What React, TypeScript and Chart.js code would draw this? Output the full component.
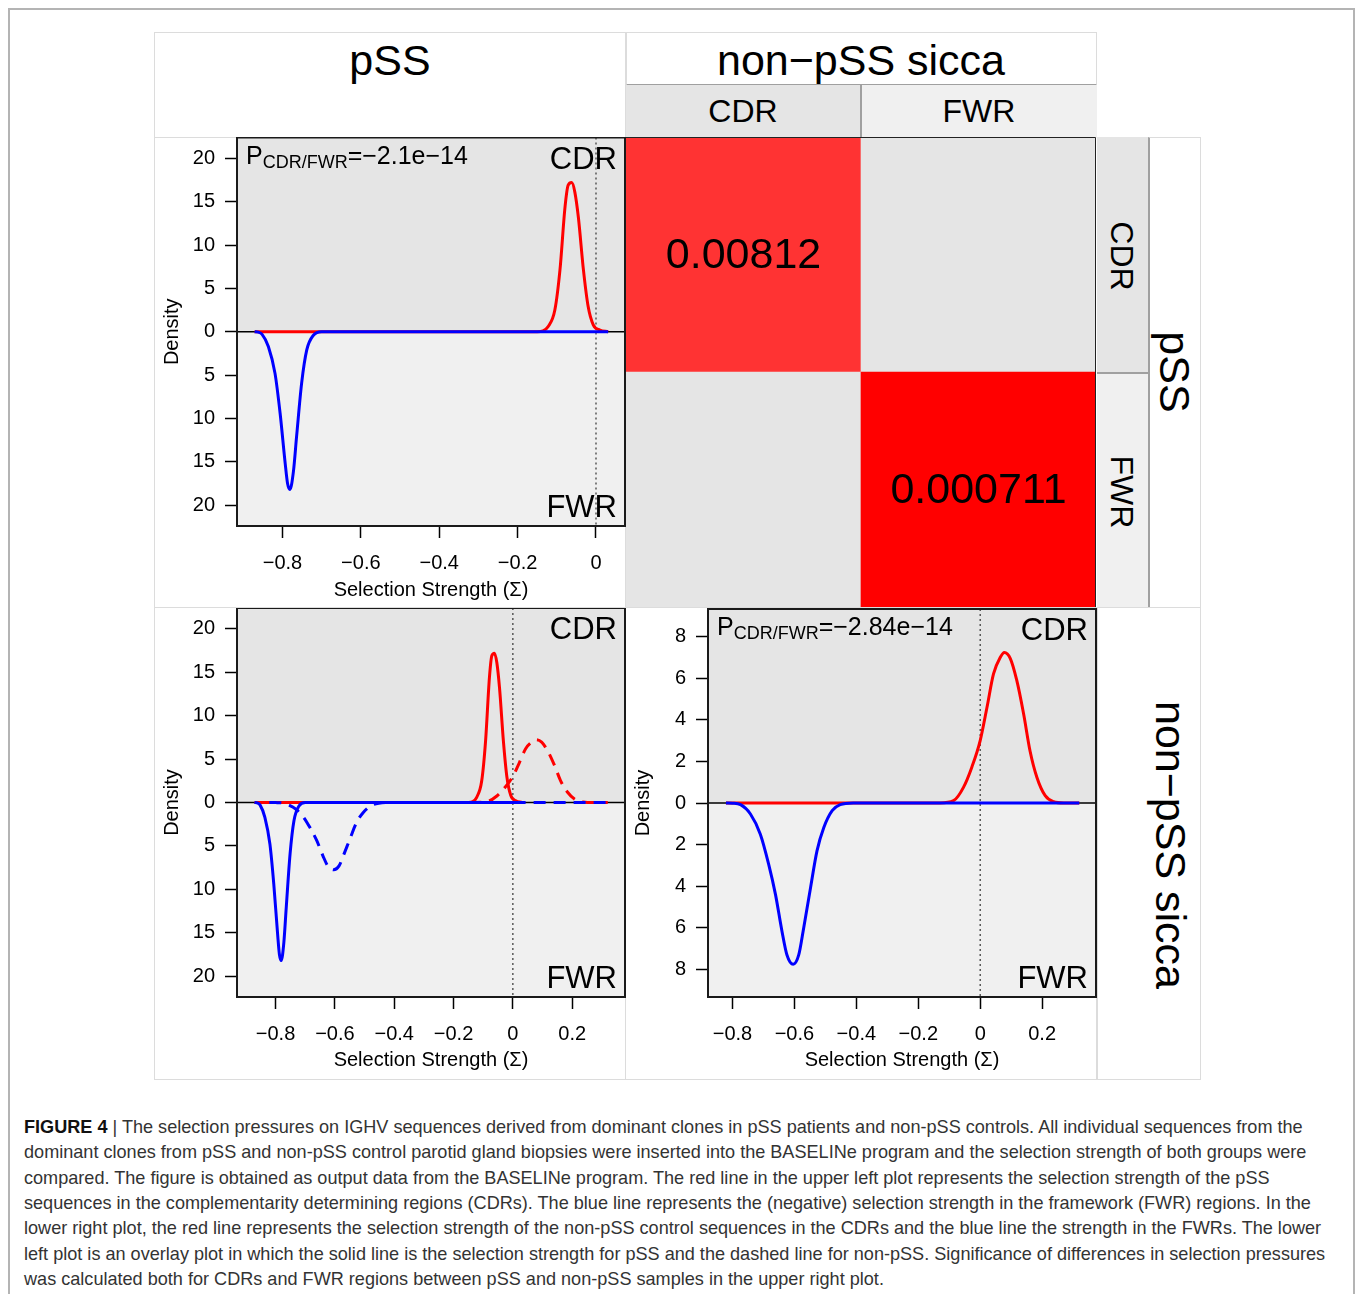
import React, { useEffect, useRef } from "react";
import { Chart, registerables } from "chart.js";

Chart.register(...registerables);

const FONT = "'Liberation Sans', Arial, Helvetica, sans-serif";

// ---------------- data ----------------
// pSS, CDR (red, solid) – selection strength density
const pssCdrX = [-0.871, -0.15, -0.135, -0.122, -0.105, -0.092, -0.079, -0.071, -0.062, -0.054, -0.045, -0.032, -0.02, -0.007, 0.01, 0.031];
const pssCdrDensity = [0, 0, 0.1, 0.6, 2.5, 7.1, 14.4, 16.9, 17.2, 16.1, 13.2, 7.1, 2.9, 0.8, 0.2, 0];
// pSS, FWR (blue, solid, drawn downwards)
const pssFwrX = [-0.871, -0.862, -0.852, -0.836, -0.819, -0.806, -0.793, -0.787, -0.781, -0.772, -0.764, -0.751, -0.738, -0.721, -0.7, 0.031];
const pssFwrDensity = [0, -0.05, -0.3, -1.7, -4.8, -9.4, -15.2, -17.5, -18.2, -16.1, -12.1, -5.9, -2.1, -0.4, 0, 0];
// non-pSS sicca, CDR (red)
const nonCdrX = [-0.821, -0.13, -0.086, -0.054, -0.027, 0.0, 0.022, 0.043, 0.065, 0.078, 0.097, 0.118, 0.14, 0.161, 0.183, 0.21, 0.237, 0.27, 0.32];
const nonCdrDensity = [0, 0, 0.11, 0.75, 1.72, 3.0, 4.6, 6.2, 7.0, 7.23, 6.95, 5.9, 4.3, 2.5, 1.24, 0.35, 0.06, 0, 0];
// non-pSS sicca, FWR (blue, drawn downwards)
const nonFwrX = [-0.821, -0.8, -0.774, -0.742, -0.71, -0.683, -0.661, -0.64, -0.624, -0.604, -0.586, -0.57, -0.548, -0.527, -0.505, -0.478, -0.452, -0.41, 0.32];
const nonFwrDensity = [0, -0.01, -0.08, -0.53, -1.5, -2.95, -4.4, -6.17, -7.3, -7.75, -7.3, -6.0, -4.08, -2.3, -1.18, -0.37, -0.08, 0, 0];

const pValuePss = "\u22122.1e\u221214";
const pValueNon = "\u22122.84e\u221214";

// heatmap of p-values (rows: pSS CDR / FWR, columns: non-pSS CDR / FWR)
const heatColumns = ["CDR", "FWR"];
const heatRowCdr = [0.00812, null];
const heatRowFwr = [null, 0.000711];

// tick values
const densityTicksWide = [-20, -15, -10, -5, 0, 5, 10, 15, 20];
const densityTicksNarrow = [-8, -6, -4, -2, 0, 2, 4, 6, 8];
const strengthTicksPss = [-0.8, -0.6, -0.4, -0.2, 0];
const strengthTicksAll = [-0.8, -0.6, -0.4, -0.2, 0, 0.2];

const captionLines = [
  " | The selection pressures on IGHV sequences derived from dominant clones in pSS patients and non-pSS controls. All individual sequences from the",
  "dominant clones from pSS and non-pSS control parotid gland biopsies were inserted into the BASELINe program and the selection strength of both groups were",
  "compared. The figure is obtained as output data from the BASELINe program. The red line in the upper left plot represents the selection strength of the pSS",
  "sequences in the complementarity determining regions (CDRs). The blue line represents the (negative) selection strength in the framework (FWR) regions. In the",
  "lower right plot, the red line represents the selection strength of the non-pSS control sequences in the CDRs and the blue line the strength in the FWRs. The lower",
  "left plot is an overlay plot in which the solid line is the selection strength for pSS and the dashed line for non-pSS. Significance of differences in selection pressures",
  "was calculated both for CDRs and FWR regions between pSS and non-pSS samples in the upper right plot.",
];

// ---------------- helpers ----------------
const RED = "#ff0000";
const BLUE = "#0000ff";

type Series = { x: number[]; y: number[]; color: string; dashed?: boolean };

type PanelProps = {
  left: number;
  top: number;
  width: number;
  height: number;
  xMin: number;
  xMax: number;
  yMax: number;
  xTicks: number[];
  yTicks: number[];
  series: Series[];
  pValue?: string;
  yWidth: number;
  xHeight: number;
  padding: { left: number; top: number; right: number; bottom: number };
  titleBottom: number;
  titleLeft: number;
};

const fmtStrength = (v: number) => (v < 0 ? "\u2212" : "") + String(Math.abs(v));

function Panel(p: PanelProps) {
  const ref = useRef<HTMLCanvasElement>(null);
  useEffect(() => {
    const decor = {
      id: "panelDecor",
      beforeDatasetsDraw(chart: any) {
        const { ctx, chartArea: a, scales } = chart;
        const y0 = scales.y.getPixelForValue(0);
        const x0 = scales.x.getPixelForValue(0);
        ctx.save();
        ctx.fillStyle = "#e5e5e5";
        ctx.fillRect(a.left, a.top, a.right - a.left, y0 - a.top);
        ctx.fillStyle = "#f0f0f0";
        ctx.fillRect(a.left, y0, a.right - a.left, a.bottom - y0);
        ctx.strokeStyle = "#333";
        ctx.lineWidth = 1.2;
        ctx.setLineDash([2, 3]);
        ctx.beginPath();
        ctx.moveTo(x0, a.top);
        ctx.lineTo(x0, a.bottom);
        ctx.stroke();
        ctx.setLineDash([]);
        ctx.strokeStyle = "#000";
        ctx.lineWidth = 1.5;
        ctx.beginPath();
        ctx.moveTo(a.left, y0);
        ctx.lineTo(a.right, y0);
        ctx.stroke();
        ctx.restore();
      },
      afterDatasetsDraw(chart: any) {
        const { ctx, chartArea: a } = chart;
        ctx.save();
        ctx.setLineDash([]);
        ctx.strokeStyle = "#1a1a1a";
        ctx.lineWidth = 2;
        ctx.strokeRect(a.left, a.top, a.right - a.left, a.bottom - a.top);
        ctx.fillStyle = "#000";
        ctx.textBaseline = "alphabetic";
        ctx.textAlign = "right";
        ctx.font = `31px ${FONT}`;
        ctx.fillText("CDR", a.right - 8, a.top + 31);
        ctx.fillText("FWR", a.right - 8, a.bottom - 9);
        if (p.pValue) {
          ctx.textAlign = "left";
          let x = a.left + 9;
          const base = a.top + 26;
          ctx.font = `25px ${FONT}`;
          ctx.fillText("P", x, base);
          x += ctx.measureText("P").width;
          ctx.font = `18px ${FONT}`;
          ctx.fillText("CDR/FWR", x, base + 4);
          x += ctx.measureText("CDR/FWR").width;
          ctx.font = `25px ${FONT}`;
          ctx.fillText("=" + p.pValue, x, base);
        }
        ctx.restore();
      },
    };

    const gridOpts = {
      drawOnChartArea: false,
      drawTicks: true,
      tickLength: 12,
      tickWidth: 1.5,
      tickColor: "#000",
    };

    const chart = new Chart(ref.current as HTMLCanvasElement, {
      type: "line",
      data: {
        datasets: p.series.map((s) => ({
          data: s.x.map((x, i) => ({ x, y: s.y[i] })),
          borderColor: s.color,
          borderWidth: 3,
          borderDash: s.dashed ? [12, 8] : [],
          pointRadius: 0,
          fill: false,
          cubicInterpolationMode: "monotone",
        })),
      } as any,
      options: {
        animation: false,
        responsive: false,
        maintainAspectRatio: false,
        events: [],
        layout: { padding: p.padding },
        plugins: {
          legend: { display: false },
          tooltip: { enabled: false },
          title: { display: false },
        },
        scales: {
          x: {
            type: "linear",
            min: p.xMin,
            max: p.xMax,
            afterBuildTicks: (s: any) => {
              s.ticks = p.xTicks.map((v) => ({ value: v }));
            },
            afterFit: (s: any) => {
              s.height = p.xHeight;
              s.paddingLeft = 0;
              s.paddingRight = 0;
              s.paddingTop = 0;
              s.paddingBottom = 0;
            },
            grid: gridOpts,
            border: { display: false },
            ticks: {
              color: "#000",
              font: { family: FONT, size: 20 },
              padding: 13,
              autoSkip: false,
              maxRotation: 0,
              callback: (v: any) => fmtStrength(Number(v)),
            },
            title: {
              display: true,
              text: "Selection Strength (\u03a3)",
              color: "#000",
              font: { family: FONT, size: 20 },
              padding: { top: 0, bottom: p.titleBottom },
            },
          },
          y: {
            type: "linear",
            min: -p.yMax,
            max: p.yMax,
            afterBuildTicks: (s: any) => {
              s.ticks = p.yTicks.map((v) => ({ value: v }));
            },
            afterFit: (s: any) => {
              s.width = p.yWidth;
              s.paddingLeft = 0;
              s.paddingRight = 0;
              s.paddingTop = 0;
              s.paddingBottom = 0;
            },
            grid: gridOpts,
            border: { display: false },
            ticks: {
              color: "#000",
              font: { family: FONT, size: 20 },
              padding: 10,
              autoSkip: false,
              callback: (v: any) => String(Math.abs(Number(v))),
            },
            title: {
              display: true,
              text: "Density",
              color: "#000",
              font: { family: FONT, size: 20 },
              padding: { top: p.titleLeft, bottom: 0 },
            },
          },
        },
      } as any,
      plugins: [decor],
    });
    return () => chart.destroy();
  }, []);
  return (
    <canvas
      ref={ref}
      width={p.width}
      height={p.height}
      style={{ position: "absolute", left: p.left, top: p.top, width: p.width, height: p.height }}
    />
  );
}

const cellColor = (v: number | null) =>
  v === null ? "#e5e5e5" : v < 0.001 ? "#ff0000" : "#ff3333";

function Heatmap() {
  const ref = useRef<HTMLCanvasElement>(null);
  useEffect(() => {
    const rows = [heatRowFwr, heatRowCdr];
    const labels = {
      id: "heatLabels",
      afterDatasetsDraw(chart: any) {
        const { ctx, chartArea: a } = chart;
        ctx.save();
        ctx.fillStyle = "#000";
        ctx.font = `43px ${FONT}`;
        ctx.textAlign = "center";
        ctx.textBaseline = "middle";
        rows.forEach((row, di) => {
          const meta = chart.getDatasetMeta(di);
          meta.data.forEach((el: any, i: number) => {
            const v = row[i];
            if (v === null) return;
            ctx.fillText(String(v), el.x, (el.y + el.base) / 2 + 2);
          });
        });
        ctx.strokeStyle = "#222";
        ctx.lineWidth = 1;
        ctx.beginPath();
        ctx.moveTo(a.left, a.top + 0.5);
        ctx.lineTo(a.right - 0.5, a.top + 0.5);
        ctx.lineTo(a.right - 0.5, a.bottom);
        ctx.stroke();
        ctx.restore();
      },
    };
    const chart = new Chart(ref.current as HTMLCanvasElement, {
      type: "bar",
      data: {
        labels: heatColumns,
        datasets: rows.map((row) => ({
          data: row.map(() => 1),
          backgroundColor: row.map(cellColor),
          borderWidth: 0,
          barPercentage: 1,
          categoryPercentage: 1,
        })),
      },
      options: {
        animation: false,
        responsive: false,
        maintainAspectRatio: false,
        events: [],
        layout: { padding: 0 },
        plugins: { legend: { display: false }, tooltip: { enabled: false } },
        scales: {
          x: { display: false, stacked: true },
          y: { display: false, stacked: true, min: 0, max: rows.length },
        },
      } as any,
      plugins: [labels],
    });
    return () => chart.destroy();
  }, []);
  return (
    <canvas
      ref={ref}
      width={470}
      height={470}
      style={{ position: "absolute", left: 626, top: 137, width: 470, height: 470 }}
    />
  );
}

function Label(props: { cx: number; cy: number; size: number; text: string; rot?: number }) {
  return (
    <div
      style={{
        position: "absolute",
        left: props.cx,
        top: props.cy,
        transform: `translate(-50%, -50%) rotate(${props.rot || 0}deg)`,
        font: `${props.size}px ${FONT}`,
        lineHeight: 1,
        whiteSpace: "nowrap",
        color: "#000",
      }}
    >
      {props.text}
    </div>
  );
}

function Box(props: { l: number; t: number; w: number; h: number; bg?: string; extra?: React.CSSProperties }) {
  return (
    <div
      style={{
        position: "absolute",
        left: props.l,
        top: props.t,
        width: props.w,
        height: props.h,
        boxSizing: "border-box",
        background: props.bg || "#fff",
        border: "1px solid #dcdcdc",
        ...(props.extra || {}),
      }}
    />
  );
}

export default function App() {
  return (
    <div
      style={{
        position: "absolute",
        left: 0,
        top: 0,
        width: 1358,
        height: 1294,
        overflow: "hidden",
        background: "#fff",
        fontFamily: FONT,
      }}
    >
      <div
        style={{
          position: "absolute",
          left: 8,
          top: 8,
          width: 1347,
          height: 1320,
          boxSizing: "border-box",
          border: "2px solid #b4b4b4",
        }}
      />
      {/* column headers */}
      <Box l={154} t={32} w={472} h={106} />
      <Box l={626} t={32} w={471} h={54} extra={{ borderBottom: "2px solid #a0a0a0" }} />
      <Box l={626} t={85} w={235} h={53} bg="#e5e5e5" extra={{ border: "none" }} />
      <Box l={860} t={85} w={237} h={53} bg="#f0f0f0" extra={{ border: "none", borderLeft: "2px solid #a0a0a0" }} />
      {/* row strips */}
      <Box l={1097} t={137} w={52} h={236} bg="#e5e5e5" extra={{ border: "none" }} />
      <Box l={1097} t={372} w={52} h={236} bg="#f0f0f0" extra={{ border: "none", borderTop: "2px solid #a0a0a0" }} />
      <Box l={1148} t={137} w={53} h={471} extra={{ borderLeft: "2px solid #a0a0a0" }} />
      <Box l={1097} t={607} w={104} h={473} />
      {/* panel cells */}
      <Box l={154} t={137} w={472} h={471} />
      <Box l={154} t={607} w={472} h={473} />
      <Box l={625} t={607} w={472} h={473} />

      <Label cx={390} cy={60} size={43} text="pSS" />
      <Label cx={861} cy={60} size={43} text={"non\u2212pSS sicca"} />
      <Label cx={743} cy={111} size={32} text="CDR" />
      <Label cx={979} cy={111} size={32} text="FWR" />
      <Label cx={1122} cy={256} size={32} text="CDR" rot={90} />
      <Label cx={1122} cy={492} size={32} text="FWR" rot={90} />
      <Label cx={1174} cy={372} size={43} text="pSS" rot={90} />
      <Label cx={1170} cy={845} size={43} text={"non\u2212pSS sicca"} rot={90} />

      <Heatmap />

      <Panel
        left={154}
        top={137}
        width={474}
        height={470}
        xMin={-0.916}
        xMax={0.074}
        yMax={22.4}
        xTicks={strengthTicksPss}
        yTicks={densityTicksWide}
        series={[
          { x: pssFwrX, y: pssFwrDensity, color: BLUE },
          { x: pssCdrX, y: pssCdrDensity, color: RED },
        ]}
        pValue={pValuePss}
        yWidth={83}
        xHeight={81}
        padding={{ left: 0, top: 0.5, right: 3, bottom: 0 }}
        titleBottom={5}
        titleLeft={6}
      />
      <Panel
        left={154}
        top={608}
        width={474}
        height={471}
        xMin={-0.93}
        xMax={0.378}
        yMax={22.4}
        xTicks={strengthTicksAll}
        yTicks={densityTicksWide}
        series={[
          { x: nonFwrX, y: nonFwrDensity, color: BLUE, dashed: true },
          { x: pssFwrX, y: pssFwrDensity, color: BLUE },
          { x: nonCdrX, y: nonCdrDensity, color: RED, dashed: true },
          { x: pssCdrX, y: pssCdrDensity, color: RED },
        ]}
        yWidth={83}
        xHeight={82}
        padding={{ left: 0, top: 0, right: 3, bottom: 0 }}
        titleBottom={7}
        titleLeft={6}
      />
      <Panel
        left={626}
        top={608}
        width={473}
        height={471}
        xMin={-0.879}
        xMax={0.374}
        yMax={9.32}
        xTicks={strengthTicksAll}
        yTicks={densityTicksNarrow}
        series={[
          { x: nonFwrX, y: nonFwrDensity, color: BLUE },
          { x: nonCdrX, y: nonCdrDensity, color: RED },
        ]}
        pValue={pValueNon}
        yWidth={82}
        xHeight={82}
        padding={{ left: 0, top: 1, right: 3, bottom: 0 }}
        titleBottom={7}
        titleLeft={5}
      />

      <div
        style={{
          position: "absolute",
          left: 24,
          top: 1115,
          font: `18.1px ${FONT}`,
          color: "#333",
          lineHeight: "25.33px",
          whiteSpace: "nowrap",
        }}
      >
        {captionLines.map((l, i) => (
          <div key={i}>
            {i === 0 ? <b style={{ color: "#111" }}>FIGURE 4</b> : null}
            {l}
          </div>
        ))}
      </div>
    </div>
  );
}
